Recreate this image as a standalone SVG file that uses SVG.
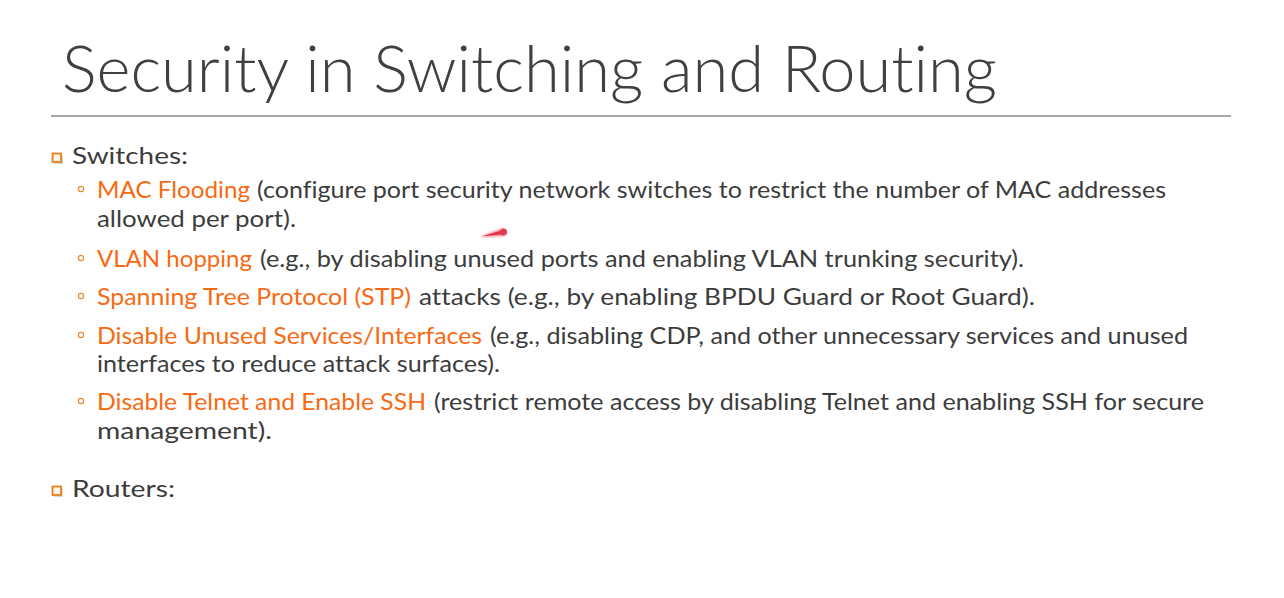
<svg xmlns="http://www.w3.org/2000/svg" width="1284" height="598" viewBox="0 0 1284 598">
<defs>
<style>
text{font-variant-ligatures:none}
.t{font-family:Lato,"Open Sans","Liberation Sans",sans-serif;font-size:65px;font-weight:300;fill:#404040}
.b{font-family:Lato,"Open Sans","Liberation Sans",sans-serif;font-size:22.5px;fill:#3c3c3c}
.o{fill:#F76A12}
.sq{fill:#FDF3E8;stroke:#E38318;stroke-width:1.8}
.sh{fill:#d8d8d8}
.ci{fill:none;stroke:#E98A35;stroke-width:1.2}
</style>
<filter id="glow" x="-50%" y="-100%" width="200%" height="300%"><feGaussianBlur stdDeviation="1.6"/></filter>
</defs>
<rect width="1284" height="598" fill="#ffffff"/>
<g id="title">
<text class="t" x="62" y="92" textLength="935" lengthAdjust="spacingAndGlyphs">Security in Switching and Routing</text>
<line x1="51" y1="116" x2="1231" y2="116" stroke="#8a8a8a" stroke-width="1.3"/>
</g>
<g id="switches">
<rect class="sh" x="54" y="155" width="9" height="9"/>
<rect class="sq" x="52.5" y="153.5" width="8.5" height="8.5"/>
<text class="b" x="72" y="164" textLength="116" lengthAdjust="spacingAndGlyphs">Switches:</text>
</g>
<g id="item1">
<circle class="ci" cx="81" cy="189" r="2.6"/>
<text class="b o" x="97" y="198" textLength="153" lengthAdjust="spacingAndGlyphs">MAC Flooding</text>
<text class="b" x="257" y="198" textLength="909" lengthAdjust="spacingAndGlyphs">(configure port security network switches to restrict the number of MAC addresses</text>
<text class="b" x="97" y="227" textLength="199" lengthAdjust="spacingAndGlyphs">allowed per port).</text>
</g>
<g id="item2">
<circle class="ci" cx="81" cy="258" r="2.6"/>
<text class="b o" x="97" y="267" textLength="155" lengthAdjust="spacingAndGlyphs">VLAN hopping</text>
<text class="b" x="260" y="267" textLength="764" lengthAdjust="spacingAndGlyphs">(e.g., by disabling unused ports and enabling VLAN trunking security).</text>
</g>
<g id="item3">
<circle class="ci" cx="81" cy="296" r="2.6"/>
<text class="b o" x="97" y="305" textLength="314" lengthAdjust="spacingAndGlyphs">Spanning Tree Protocol (STP)</text>
<text class="b" x="419" y="305" textLength="616" lengthAdjust="spacingAndGlyphs">attacks (e.g., by enabling BPDU Guard or Root Guard).</text>
</g>
<g id="item4">
<circle class="ci" cx="81" cy="335" r="2.6"/>
<text class="b o" x="97" y="344" textLength="385" lengthAdjust="spacingAndGlyphs">Disable Unused Services/Interfaces</text>
<text class="b" x="490" y="344" textLength="698" lengthAdjust="spacingAndGlyphs">(e.g., disabling CDP, and other unnecessary services and unused</text>
<text class="b" x="97" y="372" textLength="403" lengthAdjust="spacingAndGlyphs">interfaces to reduce attack surfaces).</text>
</g>
<g id="item5">
<circle class="ci" cx="81" cy="401" r="2.6"/>
<text class="b o" x="97" y="410" textLength="329" lengthAdjust="spacingAndGlyphs">Disable Telnet and Enable SSH</text>
<text class="b" x="434" y="410" textLength="770" lengthAdjust="spacingAndGlyphs">(restrict remote access by disabling Telnet and enabling SSH for secure</text>
<text class="b" x="97" y="439" textLength="175" lengthAdjust="spacingAndGlyphs">management).</text>
</g>
<g id="routers">
<rect class="sh" x="54" y="488" width="9" height="9"/>
<rect class="sq" x="52.5" y="486.5" width="8.5" height="8.5"/>
<text class="b" x="72" y="497" textLength="103" lengthAdjust="spacingAndGlyphs">Routers:</text>
</g>
<g id="pointer">
<path d="M480,237 L503,228.5 L505,235.5 Z" fill="#F26A7A" filter="url(#glow)"/>
<path d="M481,236.5 L503,230 L504,234 Z" fill="#E0344C"/>
<circle cx="503.5" cy="232" r="3.6" fill="#E43A52"/>
</g>
</svg>
